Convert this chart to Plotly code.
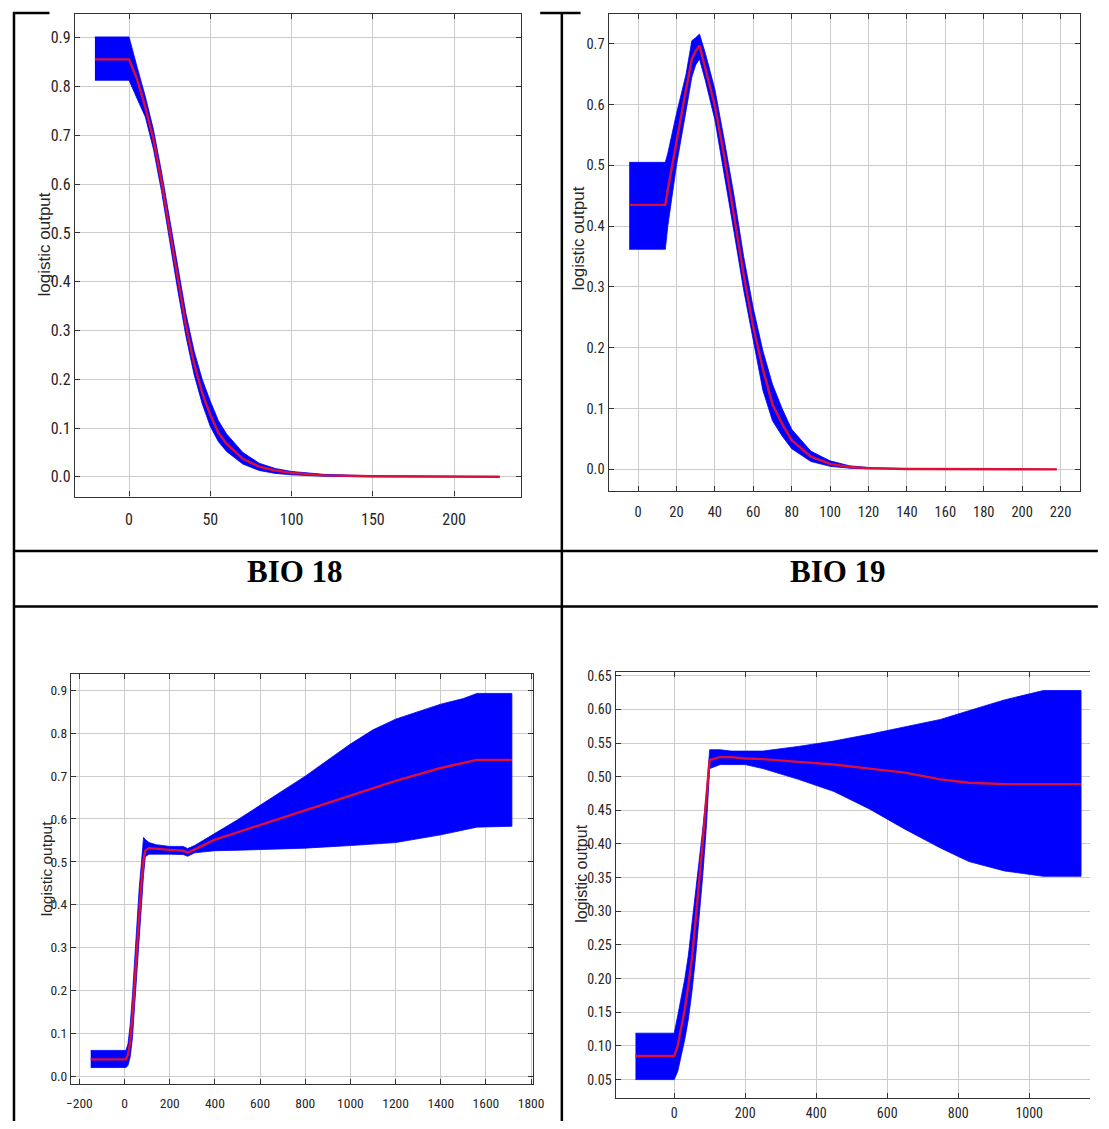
import plotly.graph_objects as go

# page body has an 8px margin; keep the figure inside the 1109x1129 window
OFF = 8
W, H = 1109 - 2 * OFF, 1129 - 2 * OFF

# ---------------- data ----------------
# BIO 18 (top-left)
x18 = [-21, 0, 5, 10, 15, 20, 25, 30, 35, 40, 45, 50, 55, 60, 70, 80, 90, 100, 120, 150, 228]
mean18 = [0.856, 0.856, 0.815, 0.758, 0.692, 0.605, 0.505, 0.405, 0.31, 0.232, 0.172, 0.127, 0.09, 0.068, 0.037, 0.021, 0.013, 0.008, 0.003, 0.001, 0.0]
up18 = [0.902, 0.902, 0.84, 0.78, 0.712, 0.625, 0.528, 0.428, 0.335, 0.258, 0.2, 0.155, 0.115, 0.088, 0.05, 0.028, 0.017, 0.011, 0.005, 0.002, 0.001]
lo18 = [0.813, 0.813, 0.775, 0.738, 0.672, 0.585, 0.482, 0.382, 0.288, 0.21, 0.15, 0.103, 0.072, 0.052, 0.026, 0.013, 0.007, 0.004, 0.001, 0.0, 0.0]
xticks18 = [0, 50, 100, 150, 200]
yticks18 = [0.0, 0.1, 0.2, 0.3, 0.4, 0.5, 0.6, 0.7, 0.8, 0.9]

# BIO 19 (top-right)
x19 = [-4.6, 14.2, 15.5, 20, 25, 28, 30, 32, 35, 40, 45, 50, 55, 60, 65, 70, 75, 80, 90, 100, 110, 120, 140, 218]
mean19 = [0.435, 0.435, 0.46, 0.54, 0.625, 0.675, 0.688, 0.697, 0.66, 0.598, 0.513, 0.418, 0.32, 0.234, 0.165, 0.107, 0.075, 0.048, 0.021, 0.009, 0.004, 0.002, 0.0005, 0.0]
up19 = [0.505, 0.505, 0.52, 0.585, 0.65, 0.705, 0.71, 0.716, 0.685, 0.625, 0.54, 0.45, 0.35, 0.265, 0.195, 0.14, 0.10, 0.066, 0.03, 0.014, 0.006, 0.003, 0.001, 0.0005]
lo19 = [0.362, 0.362, 0.40, 0.50, 0.59, 0.645, 0.665, 0.675, 0.64, 0.575, 0.485, 0.39, 0.295, 0.21, 0.13, 0.08, 0.055, 0.034, 0.013, 0.005, 0.002, 0.001, 0.0, 0.0]
xticks19 = [0, 20, 40, 60, 80, 100, 120, 140, 160, 180, 200, 220]
yticks19 = [0.0, 0.1, 0.2, 0.3, 0.4, 0.5, 0.6, 0.7]

# bottom-left panel
xA = [-150, 6, 15, 25, 35, 45, 55, 65, 75, 84, 92, 108, 140, 200, 260, 279, 310, 400, 500, 600, 800, 1000, 1100, 1200, 1400, 1500, 1560, 1715]
meanA = [0.039, 0.039, 0.05, 0.08, 0.14, 0.22, 0.31, 0.39, 0.455, 0.505, 0.526, 0.532, 0.530, 0.528, 0.526, 0.521, 0.529, 0.552, 0.569, 0.586, 0.620, 0.655, 0.672, 0.689, 0.719, 0.731, 0.738, 0.738]
upA = [0.06, 0.06, 0.075, 0.12, 0.19, 0.28, 0.37, 0.44, 0.50, 0.557, 0.552, 0.545, 0.540, 0.536, 0.536, 0.531, 0.538, 0.566, 0.598, 0.632, 0.700, 0.775, 0.808, 0.833, 0.868, 0.881, 0.893, 0.893]
loA = [0.02, 0.02, 0.025, 0.045, 0.09, 0.16, 0.24, 0.32, 0.40, 0.47, 0.512, 0.518, 0.518, 0.518, 0.517, 0.513, 0.521, 0.526, 0.527, 0.528, 0.532, 0.538, 0.541, 0.545, 0.563, 0.574, 0.581, 0.583]
xticksA = [-200, 0, 200, 400, 600, 800, 1000, 1200, 1400, 1600, 1800]
yticksA = [0.0, 0.1, 0.2, 0.3, 0.4, 0.5, 0.6, 0.7, 0.8, 0.9]

# bottom-right panel
xB = [-109, 0, 10, 20, 30, 40, 50, 60, 70, 80, 90, 100, 130, 160, 200, 250, 350, 450, 550, 650, 750, 830, 930, 1040, 1146]
meanB = [0.085, 0.085, 0.10, 0.125, 0.155, 0.19, 0.23, 0.285, 0.34, 0.40, 0.465, 0.525, 0.529, 0.529, 0.527, 0.526, 0.522, 0.518, 0.512, 0.506, 0.496, 0.491, 0.489, 0.489, 0.489]
upB = [0.119, 0.119, 0.145, 0.17, 0.20, 0.235, 0.28, 0.33, 0.37, 0.42, 0.47, 0.54, 0.54, 0.538, 0.538, 0.538, 0.545, 0.553, 0.563, 0.574, 0.585, 0.598, 0.614, 0.628, 0.628]
loB = [0.05, 0.05, 0.062, 0.084, 0.11, 0.14, 0.18, 0.23, 0.285, 0.35, 0.42, 0.512, 0.518, 0.518, 0.518, 0.512, 0.496, 0.478, 0.452, 0.422, 0.394, 0.374, 0.36, 0.352, 0.352]
xticksB = [0, 200, 400, 600, 800, 1000]
yticksB = [0.05, 0.10, 0.15, 0.20, 0.25, 0.30, 0.35, 0.40, 0.45, 0.50, 0.55, 0.60, 0.65]

panel_labels = ["BIO 18", "BIO 19"]
y_title = "logistic output"

# ---------------- figure ----------------
def fx(p):
    return (p - OFF) / W


def fy(p):
    return 1 - (p - OFF) / H


BLUE = "#0000ff"
RED = "rgb(220,15,55)"
TICKFONT = dict(family="Roboto Condensed, Roboto, Liberation Sans, sans-serif", color="#262626")

panels = [
    dict(x=x18, lo=lo18, mid=mean18, hi=up18, dx=(71, 524), dy=(10, 497),
         xr=[-33.2, 241.4], yr=[-0.0406, 0.949], xt=xticks18, yt=yticks18,
         yfmt=".1f", fs=16, xstand=8, ymirror="allticks"),
    dict(x=x19, lo=lo19, mid=mean19, hi=up19, dx=(612.5, 1091), dy=(10, 491),
         xr=[-15.3, 230.2], yr=[-0.035, 0.749], xt=xticks19, yt=yticks19,
         yfmt=".1f", fs=14.5, xstand=8, ymirror="allticks"),
    dict(x=xA, lo=loA, mid=meanA, hi=upA, dx=(67, 536), dy=(675.7, 1090),
         xr=[-236.6, 1809.6], yr=[-0.019, 0.939], xt=xticksA, yt=yticksA,
         yfmt=".1f", fs=13.5, xstand=6, ymirror="allticks"),
    dict(x=xB, lo=loB, mid=meanB, hi=upB, dx=(619.5, 1101), dy=(673.5, 1103.5),
         xr=[-165.1, 1171.2], yr=[0.0232, 0.6562], xt=xticksB, yt=yticksB,
         yfmt=".2f", fs=14, xstand=2, ymirror=False),
]

fig = go.Figure()
layout = {}
for i, p in enumerate(panels):
    k = "" if i == 0 else str(i + 1)
    xa, ya = "x" + k, "y" + k
    fig.add_trace(go.Scatter(
        x=list(p["x"]) + list(p["x"])[::-1],
        y=list(p["hi"]) + list(p["lo"])[::-1],
        fill="toself", fillcolor=BLUE, mode="lines",
        line=dict(color=BLUE, width=0.8), xaxis=xa, yaxis=ya,
        hoverinfo="skip", showlegend=False))
    fig.add_trace(go.Scatter(
        x=p["x"], y=p["mid"], mode="lines",
        line=dict(color=RED, width=2.4), xaxis=xa, yaxis=ya,
        showlegend=False))
    common = dict(showgrid=True, gridcolor="#cccccc", gridwidth=1,
                  zeroline=False, showline=True, linecolor="#333333",
                  linewidth=1.3, ticks="inside", ticklen=5, tickcolor="#333333",
                  tickfont=dict(size=p["fs"], **TICKFONT))
    layout["xaxis" + k] = dict(domain=[fx(p["dx"][0]), min(1.0, fx(p["dx"][1]))],
                               range=p["xr"], anchor=ya, tickvals=p["xt"],
                               mirror="allticks", ticklabelstandoff=p["xstand"],
                               **common)
    layout["yaxis" + k] = dict(domain=[fy(p["dy"][1]), fy(p["dy"][0])],
                               range=p["yr"], anchor=xa, tickvals=p["yt"],
                               tickformat=p["yfmt"], mirror=p["ymirror"],
                               **common)

fig.update_layout(**layout)

# table borders (reference pixel positions)
lines = [
    (9, 8, 9, 1129),        # left
    (565, 8, 565, 1129),    # middle
    (8, 552, 1109, 552),    # above labels
    (8, 608, 1109, 608),    # below labels
    (8, 9, 45, 9),          # top fragments
    (543, 9, 584, 9),
]
shapes = []
for x0, y0, x1, y1 in lines:
    shapes.append(dict(type="line", xref="paper", yref="paper",
                       x0=fx(x0), y0=fy(y0), x1=fx(x1), y1=fy(y1),
                       line=dict(color="black", width=2.5), layer="above"))

annotations = []
for txt, cx in zip(panel_labels, [294, 845]):
    annotations.append(dict(text="<b>" + txt + "</b>", x=fx(cx), y=fy(573),
                            xref="paper", yref="paper", showarrow=False,
                            xanchor="center", yanchor="middle",
                            font=dict(family="Liberation Serif, Times New Roman, serif",
                                      size=31, color="black")))
for cx, cy, fs in [(40, 243, 17), (582, 237, 17), (41.5, 873, 15.5), (585, 878, 16)]:
    annotations.append(dict(text=y_title, x=fx(cx), y=fy(cy), xref="paper",
                            yref="paper", showarrow=False, textangle=-90,
                            xanchor="center", yanchor="middle",
                            font=dict(family="Liberation Sans, Arial, sans-serif",
                                      size=fs, color="#262626")))

fig.update_layout(width=W, height=H, margin=dict(l=0, r=0, t=0, b=0),
                  paper_bgcolor="white", plot_bgcolor="white",
                  shapes=shapes, annotations=annotations, showlegend=False)

fig.write_html("out.html")
